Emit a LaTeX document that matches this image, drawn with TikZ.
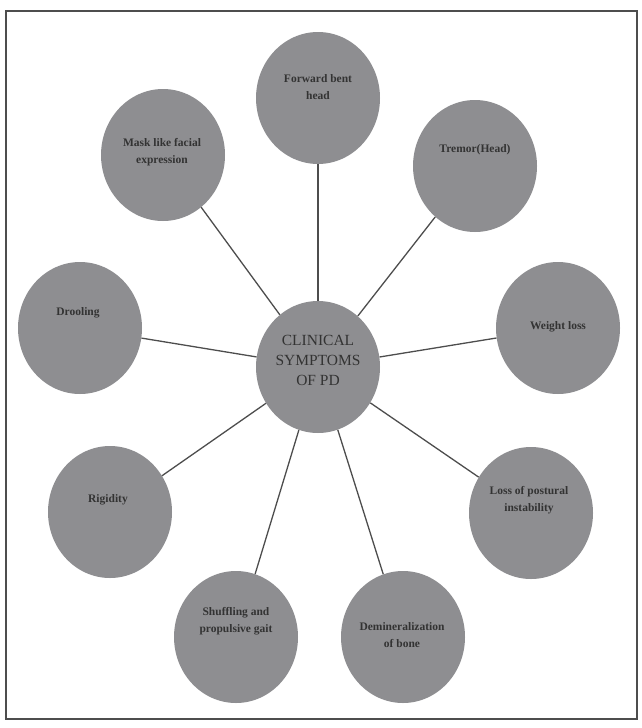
\documentclass[tikz,border=0pt]{standalone}
\usepackage{fontspec}
\setmainfont{Liberation Serif}
\usetikzlibrary{shapes.geometric}

\definecolor{bubblegray}{HTML}{8E8E91}
\definecolor{inkgray}{HTML}{333333}
\definecolor{linegray}{HTML}{4D4D4D}

\begin{document}
\begin{tikzpicture}[
		x=1pt, y=-1pt,
		bubble/.style={ellipse, fill=bubblegray, minimum width=124pt, minimum height=132pt, inner sep=0pt},
		symptom/.style={align=center, text=inkgray, font=\fontsize{11.5}{16.5}\selectfont\bfseries},
		hub/.style={align=center, text=inkgray, font=\fontsize{15.5}{20}\selectfont},
		link/.style={draw=linegray, line width=1.3pt},
	]
	\useasboundingbox (0,0) rectangle (642,728);

	% outer frame
	\draw[linegray, line width=1.5pt] (6,11) rectangle (637,719);

	% centre
	\node[bubble] (pd) at (318,367) {};
	\node[hub] (pdtext) at (318,360) {CLINICAL\\SYMPTOMS\\OF PD};

	% symptoms, clockwise from the top
	\node[bubble] (head) at (318,98) {};
	\node[symptom] (headtext) at (318,87) {Forward bent\\head};

	\node[bubble] (tremor) at (475,166) {};
	\node[symptom] (tremortext) at (475,150) {Tremor(Head)};

	\node[bubble] (weight) at (558,328) {};
	\node[symptom] (weighttext) at (558,327) {Weight loss};

	\node[bubble] (posture) at (531,513) {};
	\node[symptom] (posturetext) at (529,500) {Loss of postural\\instability};

	\node[bubble] (bone) at (403,637) {};
	\node[symptom] (bonetext) at (402,635) {Demineralization\\of bone};

	\node[bubble] (gait) at (236,637) {};
	\node[symptom] (gaittext) at (236,621) {Shuffling and\\propulsive gait};

	\node[bubble] (rigid) at (110,512) {};
	\node[symptom] (rigidtext) at (108,500) {Rigidity};

	\node[bubble] (drool) at (80,328) {};
	\node[symptom] (drooltext) at (78,313) {Drooling};

	\node[bubble] (mask) at (163,155) {};
	\node[symptom] (masktext) at (162,152) {Mask like facial\\expression};

	% spokes
	\foreach \s in {head, tremor, weight, posture, bone, gait, rigid, drool, mask}
		\draw[link] (pd) -- (\s);
\end{tikzpicture}
\end{document}
